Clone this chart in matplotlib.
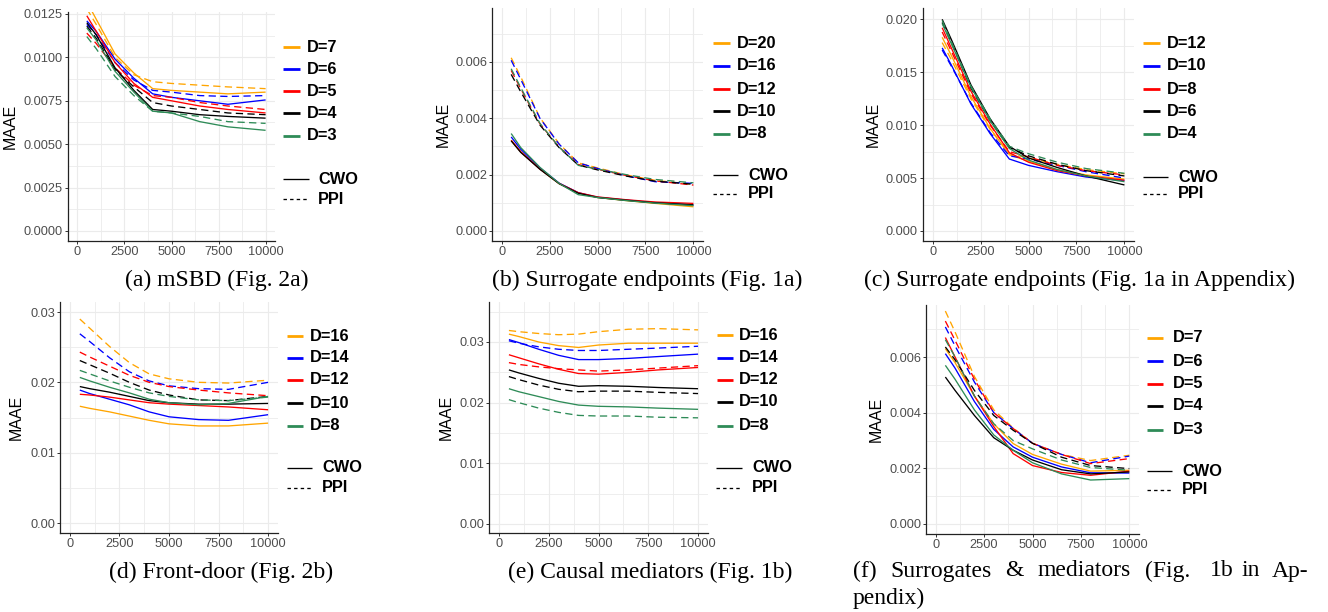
import matplotlib
matplotlib.use("Agg")
import matplotlib.pyplot as plt
from matplotlib.lines import Line2D

# ---------------- data ----------------
N = [500, 1000, 2000, 3000, 4000, 5000, 6500, 8000, 10000]
colors = ["#FFA500", "#0000FF", "#FF0000", "#000000", "#2E8B57"]

# (a) mSBD
a_labels = ["D=7", "D=6", "D=5", "D=4", "D=3"]
a_cwo = [
    [0.0132, 0.0122, 0.0102, 0.0091, 0.0082, 0.0081, 0.0080, 0.0079, 0.0080],
    [0.0121, 0.0115, 0.0099, 0.0088, 0.0079, 0.0077, 0.0075, 0.0073, 0.00755],
    [0.0124, 0.0115, 0.0097, 0.0085, 0.0077, 0.0075, 0.0072, 0.0070, 0.0068],
    [0.0120, 0.0113, 0.0094, 0.0081, 0.0070, 0.0069, 0.0067, 0.0066, 0.0065],
    [0.0117, 0.0110, 0.0092, 0.0080, 0.0069, 0.0068, 0.0063, 0.0060, 0.0058],
]
a_ppi = [
    [0.0128, 0.0119, 0.0100, 0.0090, 0.0086, 0.0085, 0.0084, 0.0083, 0.0082],
    [0.0119, 0.0113, 0.0097, 0.0087, 0.0081, 0.0080, 0.0078, 0.00775, 0.0078],
    [0.0114, 0.0108, 0.0094, 0.0084, 0.0078, 0.0077, 0.0074, 0.0072, 0.0070],
    [0.0118, 0.0111, 0.0093, 0.0083, 0.0074, 0.0072, 0.0070, 0.0068, 0.0067],
    [0.0112, 0.0105, 0.0089, 0.0078, 0.0069, 0.0068, 0.0066, 0.0063, 0.0062],
]
a_yticks = [0.0, 0.0025, 0.005, 0.0075, 0.01, 0.0125]
a_yticklabels = ["0.0000", "0.0025", "0.0050", "0.0075", "0.0100", "0.0125"]

# (b) Surrogate endpoints
b_labels = ["D=20", "D=16", "D=12", "D=10", "D=8"]
b_cwo = [
    [0.00322, 0.00281, 0.00220, 0.00168, 0.00135, 0.00119, 0.00108, 0.00098, 0.00086],
    [0.00334, 0.00290, 0.00224, 0.00170, 0.00136, 0.00120, 0.00110, 0.00101, 0.00092],
    [0.00322, 0.00281, 0.00220, 0.00169, 0.00136, 0.00121, 0.00111, 0.00103, 0.00098],
    [0.00320, 0.00279, 0.00219, 0.00168, 0.00134, 0.00119, 0.00109, 0.00100, 0.00093],
    [0.00346, 0.00296, 0.00226, 0.00169, 0.00129, 0.00119, 0.00108, 0.00099, 0.00090],
]
b_ppi = [
    [0.00615, 0.00547, 0.00402, 0.00310, 0.00242, 0.00224, 0.00199, 0.00180, 0.00165],
    [0.00606, 0.00538, 0.00400, 0.00308, 0.00242, 0.00222, 0.00196, 0.00175, 0.00169],
    [0.00570, 0.00505, 0.00380, 0.00298, 0.00236, 0.00219, 0.00197, 0.00178, 0.00163],
    [0.00556, 0.00494, 0.00376, 0.00296, 0.00234, 0.00217, 0.00195, 0.00177, 0.00166],
    [0.00576, 0.00509, 0.00382, 0.00298, 0.00233, 0.00220, 0.00200, 0.00183, 0.00171],
]
b_yticks = [0.0, 0.002, 0.004, 0.006]
b_yticklabels = ["0.000", "0.002", "0.004", "0.006"]

# (c) Surrogate endpoints (Appendix)
c_labels = ["D=12", "D=10", "D=8", "D=6", "D=4"]
c_cwo = [
    [0.0183, 0.0165, 0.0127, 0.0097, 0.0072, 0.0066, 0.0058, 0.0053, 0.0049],
    [0.0173, 0.0156, 0.0120, 0.0092, 0.0068, 0.0062, 0.0056, 0.0051, 0.00476],
    [0.0192, 0.0172, 0.0132, 0.0101, 0.0074, 0.0065, 0.0057, 0.0052, 0.0048],
    [0.0200, 0.0180, 0.0138, 0.0106, 0.0080, 0.0069, 0.0060, 0.0052, 0.00435],
    [0.0196, 0.0176, 0.0136, 0.0104, 0.0078, 0.0067, 0.0058, 0.0052, 0.00466],
]
c_ppi = [
    [0.0178, 0.0161, 0.0125, 0.0096, 0.0073, 0.0069, 0.0063, 0.0058, 0.0054],
    [0.0171, 0.0155, 0.0121, 0.0093, 0.0071, 0.0068, 0.0062, 0.0056, 0.0050],
    [0.0188, 0.0169, 0.0130, 0.0100, 0.0075, 0.0070, 0.0062, 0.0057, 0.0053],
    [0.0197, 0.0177, 0.0135, 0.0104, 0.0079, 0.0071, 0.0063, 0.0057, 0.0052],
    [0.0199, 0.0178, 0.0137, 0.0106, 0.0080, 0.0073, 0.0065, 0.0059, 0.00545],
]
c_yticks = [0.0, 0.005, 0.01, 0.015, 0.02]
c_yticklabels = ["0.000", "0.005", "0.010", "0.015", "0.020"]

# (d) Front-door
d_labels = ["D=16", "D=14", "D=12", "D=10", "D=8"]
d_cwo = [
    [0.0166, 0.0163, 0.0158, 0.0152, 0.0146, 0.0141, 0.0138, 0.0138, 0.0142],
    [0.0189, 0.0184, 0.0176, 0.0168, 0.0158, 0.0151, 0.0147, 0.0146, 0.0154],
    [0.0183, 0.0182, 0.0179, 0.0175, 0.0171, 0.0169, 0.0167, 0.0165, 0.0161],
    [0.0194, 0.0191, 0.0186, 0.0180, 0.0174, 0.0171, 0.0169, 0.0169, 0.0170],
    [0.0207, 0.0202, 0.0193, 0.0185, 0.0176, 0.0171, 0.0168, 0.0170, 0.0180],
]
d_ppi = [
    [0.0290, 0.0277, 0.0251, 0.0228, 0.0212, 0.0205, 0.0200, 0.0199, 0.0203],
    [0.0269, 0.0258, 0.0235, 0.0215, 0.0202, 0.0195, 0.0191, 0.0190, 0.0200],
    [0.0243, 0.0236, 0.0223, 0.0210, 0.0200, 0.0194, 0.0189, 0.0185, 0.0181],
    [0.0231, 0.0225, 0.0213, 0.0200, 0.0189, 0.0182, 0.0175, 0.0174, 0.0180],
    [0.0217, 0.0212, 0.0202, 0.0193, 0.0185, 0.0180, 0.0175, 0.0174, 0.0179],
]
d_yticks = [0.0, 0.01, 0.02, 0.03]
d_yticklabels = ["0.00", "0.01", "0.02", "0.03"]

# (e) Causal mediators
e_labels = ["D=16", "D=14", "D=12", "D=10", "D=8"]
e_cwo = [
    [0.0313, 0.0309, 0.0300, 0.0294, 0.0291, 0.0295, 0.0298, 0.0298, 0.0298],
    [0.0304, 0.0299, 0.0288, 0.0278, 0.0271, 0.0271, 0.0273, 0.0276, 0.0280],
    [0.0279, 0.0274, 0.0264, 0.0255, 0.0248, 0.0247, 0.0250, 0.0254, 0.0258],
    [0.0254, 0.0249, 0.0240, 0.0232, 0.0227, 0.0228, 0.0227, 0.0225, 0.0223],
    [0.0223, 0.0218, 0.0210, 0.0202, 0.0196, 0.0194, 0.0193, 0.0191, 0.0189],
]
e_ppi = [
    [0.0319, 0.0317, 0.0314, 0.0312, 0.0313, 0.0317, 0.0321, 0.0322, 0.0320],
    [0.0302, 0.0298, 0.0292, 0.0288, 0.0286, 0.0286, 0.0288, 0.0290, 0.0293],
    [0.0266, 0.0263, 0.0259, 0.0256, 0.0254, 0.0252, 0.0254, 0.0257, 0.0261],
    [0.0243, 0.0238, 0.0229, 0.0222, 0.0218, 0.0219, 0.0219, 0.0217, 0.0215],
    [0.0205, 0.0200, 0.0191, 0.0184, 0.0179, 0.0178, 0.0178, 0.0176, 0.0175],
]
e_yticks = [0.0, 0.01, 0.02, 0.03]
e_yticklabels = ["0.00", "0.01", "0.02", "0.03"]

# (f) Surrogates & mediators
f_labels = ["D=7", "D=6", "D=5", "D=4", "D=3"]
f_cwo = [
    [0.00630, 0.0058, 0.0046, 0.0036, 0.00289, 0.0025, 0.00215, 0.00190, 0.00193],
    [0.00612, 0.0056, 0.0044, 0.0034, 0.00277, 0.0024, 0.00205, 0.00184, 0.00183],
    [0.00670, 0.0060, 0.0046, 0.0035, 0.00253, 0.0021, 0.00185, 0.00175, 0.00190],
    [0.00528, 0.0048, 0.0039, 0.0031, 0.00265, 0.0023, 0.00195, 0.00180, 0.00187],
    [0.00570, 0.0052, 0.0041, 0.0032, 0.00265, 0.0022, 0.00180, 0.00158, 0.00163],
]
f_ppi = [
    [0.00765, 0.0069, 0.0053, 0.0041, 0.00345, 0.0029, 0.0025, 0.00228, 0.00247],
    [0.00708, 0.0064, 0.0051, 0.0040, 0.00343, 0.0029, 0.0025, 0.00220, 0.00244],
    [0.00729, 0.0066, 0.0052, 0.0040, 0.00343, 0.0029, 0.0025, 0.00217, 0.00235],
    [0.00636, 0.0059, 0.0048, 0.0039, 0.00337, 0.0029, 0.0024, 0.00210, 0.00199],
    [0.00662, 0.0060, 0.0046, 0.0036, 0.00300, 0.0027, 0.0023, 0.00203, 0.00193],
]
f_yticks = [0.0, 0.002, 0.004, 0.006]
f_yticklabels = ["0.000", "0.002", "0.004", "0.006"]

xticks = [0, 2500, 5000, 7500, 10000]
xticklabels = ["0", "2500", "5000", "7500", "10000"]
xminor = [1250, 3750, 6250, 8750]

# ---------------- layout ----------------
W, H = 1328, 612
fig = plt.figure(figsize=(W / 100, H / 100), dpi=100)
fig.patch.set_facecolor("white")

SANS = ["Liberation Sans", "DejaVu Sans"]
SERIF = ["Liberation Serif", "DejaVu Serif"]

panels = [
    dict(cwo=a_cwo, ppi=a_ppi, labels=a_labels, yt=a_yticks, ytl=a_yticklabels,
         box=(68, 12, 275, 241), yref=((0.0, 231), (0.0125, 14)), yl=50,
         key=(283, 300, 307), ky=[47, 69, 91, 113, 136], lk=(283, 309, 318), lky=[179, 199]),
    dict(cwo=b_cwo, ppi=b_ppi, labels=b_labels, yt=b_yticks, ytl=b_yticklabels,
         box=(492, 8, 703, 241), yref=((0.0, 231), (0.006, 62)), yl=41,
         key=(713, 730, 737), ky=[43, 66, 89, 111, 134], lk=(713, 738, 748), lky=[175, 194]),
    dict(cwo=c_cwo, ppi=c_ppi, labels=c_labels, yt=c_yticks, ytl=c_yticklabels,
         box=(923, 8, 1134, 241), yref=((0.0, 231), (0.02, 19.3)), yl=42,
         key=(1143, 1160, 1167), ky=[43, 66, 89, 111, 134], lk=(1143, 1168, 1178), lky=[177, 194]),
    dict(cwo=d_cwo, ppi=d_ppi, labels=d_labels, yt=d_yticks, ytl=d_yticklabels,
         box=(60, 302, 278, 533), yref=((0.0, 523), (0.03, 312)), yl=36,
         key=(287, 303, 310), ky=[336, 358, 380, 403, 426], lk=(287, 312, 322), lky=[468, 488]),
    dict(cwo=e_cwo, ppi=e_ppi, labels=e_labels, yt=e_yticks, ytl=e_yticklabels,
         box=(489, 302, 708, 533), yref=((0.0, 524), (0.03, 342)), yl=35,
         key=(717, 733, 739), ky=[335, 358, 380, 402, 426], lk=(716, 742, 752), lky=[468, 488]),
    dict(cwo=f_cwo, ppi=f_ppi, labels=f_labels, yt=f_yticks, ytl=f_yticklabels,
         box=(926, 305, 1139, 534), yref=((0.0, 524), (0.006, 357)), yl=42,
         key=(1147, 1163, 1173), ky=[338, 361, 384, 406, 430], lk=(1147, 1172, 1182), lky=[471, 490]),
]


def fx(p):
    return p / W


def fy(p):
    return 1 - p / H


for P in panels:
    l, t, r, b = P["box"]
    ax = fig.add_axes([fx(l), fy(b), (r - l) / W, (b - t) / H])
    (va, pa), (vb, pb) = P["yref"]
    ppu = (pa - pb) / (vb - va)
    ylo = va - (b - pa) / ppu
    yhi = va + (pa - t) / ppu
    ax.set_xlim(-500, 10500)
    ax.set_ylim(ylo, yhi)

    ax.set_xticks(xticks)
    ax.set_xticklabels(xticklabels)
    ax.set_xticks(xminor, minor=True)
    yt = P["yt"]
    step = yt[1] - yt[0]
    ymin = [v + step / 2 for v in yt] + [yt[0] - step / 2]
    ymin = [v for v in ymin if ylo < v < yhi]
    ax.set_yticks(yt)
    ax.set_yticklabels(P["ytl"])
    ax.set_yticks(ymin, minor=True)

    ax.grid(which="major", color="#EBEBEB", lw=0.85)
    ax.grid(which="minor", color="#EBEBEB", lw=0.6)
    ax.set_axisbelow(True)
    for s in ("top", "right"):
        ax.spines[s].set_visible(False)
    for s in ("left", "bottom"):
        ax.spines[s].set_color("#222222")
        ax.spines[s].set_linewidth(0.9)
    ax.tick_params(which="major", length=2.4, width=0.7, color="#333333",
                   labelcolor="#4D4D4D", labelsize=9.2, pad=1.2)
    ax.tick_params(which="minor", length=0)
    for lab in ax.get_xticklabels() + ax.get_yticklabels():
        lab.set_family(SANS)

    for i in range(5):
        ax.plot(N, P["cwo"][i], color=colors[i], lw=0.95, solid_capstyle="butt")
        ax.plot(N, P["ppi"][i], color=colors[i], lw=0.95,
                linestyle=(0, (5.5, 3.3)), dash_capstyle="butt")

    ax.set_ylabel("MAAE", fontsize=11.5, family=SANS, color="black")
    ax.yaxis.set_label_coords(-P["yl"] / (r - l), 0.5)

    # legend (colour)
    k0, k1, kt = P["key"]
    for i, yy in enumerate(P["ky"]):
        fig.add_artist(Line2D([fx(k0), fx(k1)], [fy(yy), fy(yy)], color=colors[i],
                              lw=2.0, solid_capstyle="butt", transform=fig.transFigure))
        fig.text(fx(kt), fy(yy), P["labels"][i], fontsize=11.8, fontweight="bold",
                 family=SANS, va="center", ha="left")
    # legend (linetype)
    m0, m1, mt = P["lk"]
    fig.add_artist(Line2D([fx(m0), fx(m1)], [fy(P["lky"][0])] * 2, color="black",
                          lw=0.95, solid_capstyle="butt", transform=fig.transFigure))
    fig.add_artist(Line2D([fx(m0), fx(m1)], [fy(P["lky"][1])] * 2, color="black",
                          lw=0.95, linestyle=(0, (2.6, 2.4)), transform=fig.transFigure))
    fig.text(fx(mt), fy(P["lky"][0]), "CWO", fontsize=11.8, fontweight="bold",
             family=SANS, va="center", ha="left")
    fig.text(fx(mt), fy(P["lky"][1]), "PPI", fontsize=11.8, fontweight="bold",
             family=SANS, va="center", ha="left")

# captions
cap_kw = dict(fontsize=17, family=SERIF, va="center")
fig.text(fx(217), fy(280), "(a) mSBD (Fig. 2a)", ha="center", **cap_kw)
fig.text(fx(647), fy(280), "(b) Surrogate endpoints (Fig. 1a)", ha="center", **cap_kw)
fig.text(fx(1080), fy(280), "(c) Surrogate endpoints (Fig. 1a in Appendix)", ha="center", **cap_kw)
fig.text(fx(221), fy(572), "(d) Front-door (Fig. 2b)", ha="center", **cap_kw)
fig.text(fx(650), fy(572), "(e) Causal mediators (Fig. 1b)", ha="center", **cap_kw)
f_words = [("(f)", 853), ("Surrogates", 890), ("&", 1005), ("mediators", 1037),
           ("(Fig.", 1145), ("1b", 1210), ("in", 1242), ("Ap-", 1272)]
for w, xp in f_words:
    fig.text(fx(xp), fy(571), w, ha="left", **cap_kw)
fig.text(fx(853), fy(598), "pendix)", ha="left", **cap_kw)

fig.savefig("out.png", dpi=100, facecolor="white")
